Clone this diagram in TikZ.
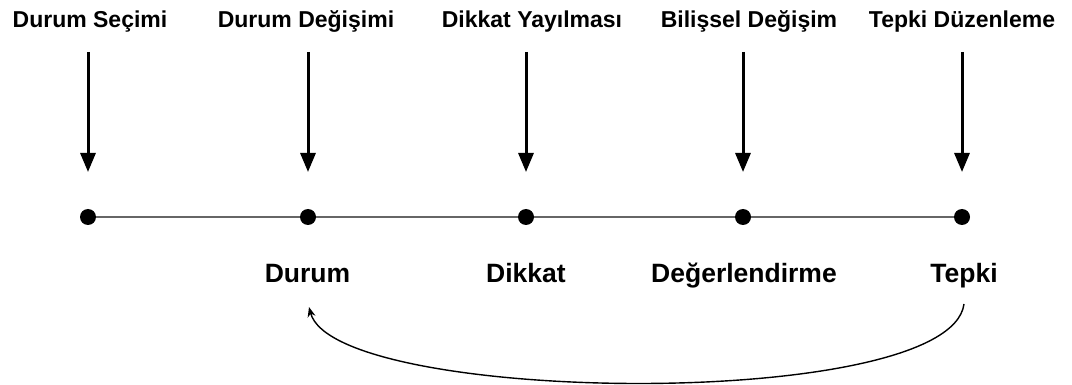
\documentclass[tikz,border=0pt]{standalone}
\usepackage{fontspec}
\setmainfont{Liberation Sans}
\usetikzlibrary{arrows.meta}
\begin{document}
\begin{tikzpicture}[x=1pt,y=-1pt,
  toplab/.style={font=\fontsize{23}{26}\selectfont\bfseries, anchor=base, inner sep=0pt},
  botlab/.style={font=\fontsize{26.5}{30}\selectfont\bfseries, anchor=base, inner sep=0pt},
  dot/.style={circle, fill=black, inner sep=0pt, minimum size=16pt},
  downarrow/.style={line width=3pt, -{Triangle[length=19pt,width=15pt]}},
  timeline/.style={line width=1.5pt, draw=black!60},
  feedback/.style={line width=1.4pt, -{Stealth[length=10pt,width=8pt]}}]
\useasboundingbox (0,0) rectangle (1072,385);
% top labels
\node[toplab] (t1) at (90,27.5) {Durum Seçimi};
\node[toplab] (t2) at (306,27.5) {Durum Değişimi};
\node[toplab] (t3) at (532,27.5) {Dikkat Yayılması};
\node[toplab] (t4) at (749,27.5) {Bilişsel Değişim};
\node[toplab] (t5) at (962,27.5) {Tepki Düzenleme};
% arrow coordinates
\coordinate (s1) at (88,52); \coordinate (e1) at (88,172);
\coordinate (s2) at (308,52); \coordinate (e2) at (308,172);
\coordinate (s3) at (526,52); \coordinate (e3) at (526,172);
\coordinate (s4) at (743,52); \coordinate (e4) at (743,172);
\coordinate (s5) at (962,52); \coordinate (e5) at (962,172);
\foreach \i in {1,...,5} {\draw[downarrow] (s\i) -- (e\i);}
% dots
\node[dot] (d1) at (88,217) {};
\node[dot] (d2) at (308,217) {};
\node[dot] (d3) at (526,217) {};
\node[dot] (d4) at (743,217) {};
\node[dot] (d5) at (962,217) {};
\draw[timeline] (d1) -- (d2) -- (d3) -- (d4) -- (d5);
% bottom labels
\node[botlab] (b2) at (307.5,283) {Durum};
\node[botlab] (b3) at (526,283) {Dikkat};
\node[botlab] (b4) at (744,283) {Değerlendirme};
\node[botlab] (b5) at (964,283) {Tepki};
% feedback curve
\coordinate (c5) at (964,304);
\coordinate (c2) at (309,307);
\draw[feedback] (c5) .. controls (950,412) and (335,405) .. (c2);
\end{tikzpicture}
\end{document}
